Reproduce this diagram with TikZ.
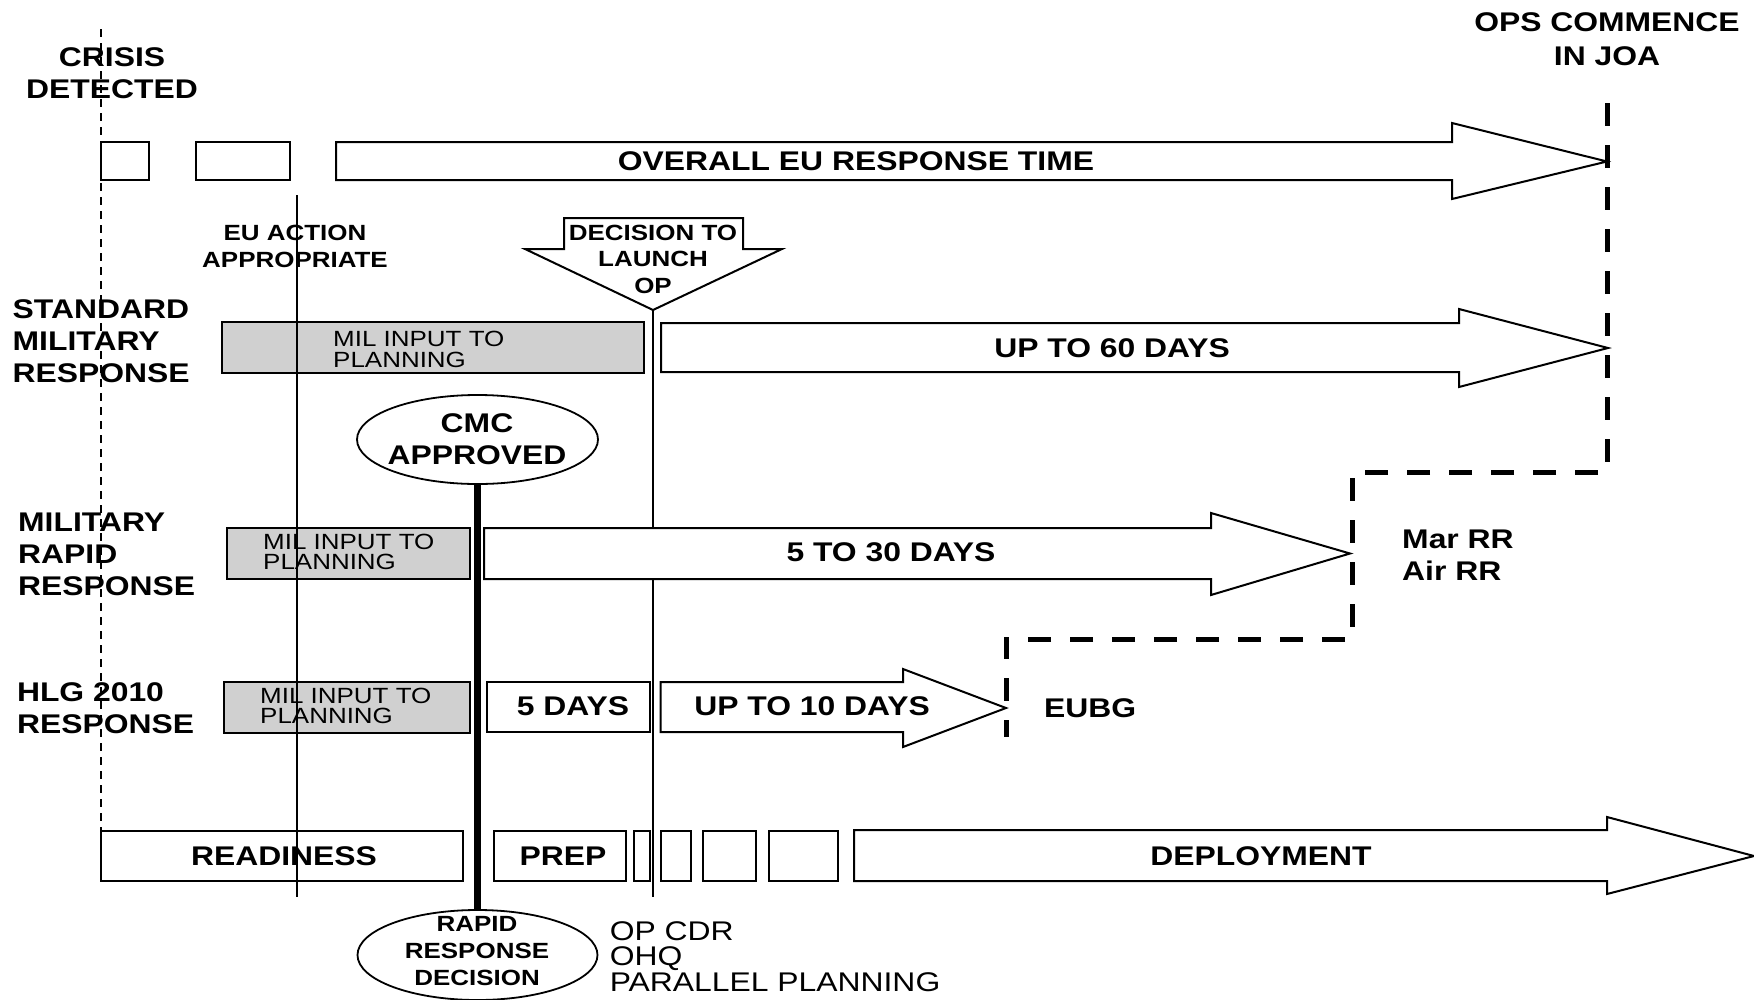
\documentclass[tikz,border=0pt]{standalone}
\usepackage{fontspec}
\setmainfont{Liberation Sans}[FakeStretch=1.18]
\usetikzlibrary{shapes.geometric,fit}
\definecolor{milgray}{RGB}{208,208,208}
\begin{document}
\begin{tikzpicture}[x=1pt,y=-1pt,
  shp/.style={draw, line width=2pt, fill=white, line join=miter},
  boxn/.style={shp, inner sep=0pt, outer sep=0pt},
  gboxn/.style={boxn, fill=milgray},
  thinline/.style={line width=1.5pt},
  crisisdash/.style={line width=1.3pt, dash pattern=on 8pt off 6pt},
  opsdash/.style={line width=5pt, dash pattern=on 23pt off 19pt},
  bigb/.style={font=\fontsize{27}{32}\selectfont\bfseries, inner sep=0pt, align=center},
  bigbl/.style={bigb, align=left, anchor=west},
  midb/.style={font=\fontsize{22}{26.5}\selectfont\bfseries, inner sep=0pt, align=center},
  milt/.style={font=\fontsize{22}{20.5}\selectfont, inner sep=0pt, align=left, anchor=west},
  regt/.style={font=\fontsize{27}{25.6}\selectfont, inner sep=0pt, align=left, anchor=west},
  ell/.style={draw, ellipse, line width=1.8pt, fill=white, inner sep=0pt, outer sep=0pt},
]
\useasboundingbox (0,0) rectangle (1754,999);

% coordinates for free ends
\coordinate (crisistop) at (101,29);
\coordinate (euatop) at (297,195);
\coordinate (euabot) at (297,897);
\coordinate (decbot) at (653,897);
\coordinate (dectip) at (653,310);
\coordinate (opstop) at (1607,103);
\coordinate (c1) at (1607,472);
\coordinate (c2) at (1352,472);
\coordinate (c3) at (1352,639);
\coordinate (c4) at (1006,639);
\coordinate (opsbot) at (1006,737);

% decision line (behind shapes)
\draw[thinline] (dectip) -- (decbot);

% row 1
\node[boxn, fit={(101,142)(149,180)}] (r1a) {};
\node[boxn, fit={(196,142)(290,180)}] (r1b) {};
\draw[shp] (336,142) -- (1452,142) -- (1452,123) -- (1607,161.5) -- (1452,199) -- (1452,180) -- (336,180) -- cycle;
\node[bigb] (overall) at (856,161.5) {OVERALL EU RESPONSE TIME};

% decision arrow
\draw[shp] (564,218) -- (743,218) -- (743,249) -- (782,249) -- (dectip) -- (525,249) -- (564,249) -- cycle;
\node[midb] (decision) at (653,259) {DECISION TO\\LAUNCH\\OP};

% standard row
\node[gboxn, fit={(222,322)(644,373)}] (g1) {};
\node[milt] (g1t) at (333,349.5) {MIL INPUT TO\\PLANNING};
\draw[shp] (661,323) -- (1459,323) -- (1459,309) -- (1608,348) -- (1459,387) -- (1459,372) -- (661,372) -- cycle;
\node[bigb] (sixty) at (1112,348) {UP TO 60 DAYS};

% rapid row
\node[gboxn, fit={(226.5,528)(470,579)}] (g2) {};
\node[milt] (g2t) at (263,552) {MIL INPUT TO\\PLANNING};
\draw[shp] (484,528) -- (1211,528) -- (1211,513) -- (1350,553.5) -- (1211,595) -- (1211,579) -- (484,579) -- cycle;
\node[bigb] (thirty) at (891,552) {5 TO 30 DAYS};

% hlg row
\node[gboxn, fit={(224,682)(470,733)}] (g3) {};
\node[milt] (g3t) at (260,706) {MIL INPUT TO\\PLANNING};
\node[boxn, fit={(486.6,682)(650,732)}] (five) {};
\node[bigb] (fivet) at (573,706.5) {5 DAYS};
\draw[shp] (660.5,682) -- (903,682) -- (903,669) -- (1006,708) -- (903,747) -- (903,732) -- (660.5,732) -- cycle;
\node[bigb] (ten) at (812,706) {UP TO 10 DAYS};

% bottom row
\node[boxn, fit={(101,831)(463,881)}] (ready) {};
\node[bigb] (readyt) at (284,856.5) {READINESS};
\node[boxn, fit={(494,831)(626,881)}] (prep) {};
\node[bigb] (prept) at (563,856.5) {PREP};
\node[boxn, fit={(634,831)(650,881)}] (s1) {};
\node[boxn, fit={(661,831)(691,881)}] (s2) {};
\node[boxn, fit={(702.5,831)(755.6,881)}] (s3) {};
\node[boxn, fit={(769,831)(838,881)}] (s4) {};
\draw[shp] (854,830) -- (1607,830) -- (1607,817) -- (1754,856) -- (1607,894) -- (1607,881) -- (854,881) -- cycle;
\node[bigb] (deploy) at (1261,856.5) {DEPLOYMENT};

% ellipses
\node[ell, minimum width=241, minimum height=89] (cmc) at (477.5,439.5) {};
\node[bigb] (cmct) at (477,439) {CMC\\APPROVED};
\node[ell, minimum width=240, minimum height=90] (rrd) at (477.5,955) {};
\node[midb, font=\fontsize{22}{27}\selectfont\bfseries] (rrdt) at (477,951.5) {RAPID\\RESPONSE\\DECISION};

% labels
\node[bigb] (crisis) at (112,73.6) {CRISIS\\DETECTED};
\node[bigb, font=\fontsize{27}{33.5}\selectfont\bfseries] (ops) at (1607,39) {OPS COMMENCE\\IN JOA};
\node[midb] (eua) at (295,246.5) {EU ACTION\\APPROPRIATE};
\node[bigbl] (std) at (12.5,341.5) {STANDARD\\MILITARY\\RESPONSE};
\node[bigbl] (mrr) at (18,554) {MILITARY\\RAPID\\RESPONSE};
\node[bigbl] (hlg) at (16.8,707.7) {HLG 2010\\RESPONSE};
\node[bigbl] (marrr) at (1402,555) {Mar RR\\Air RR};
\node[bigbl] (eubg) at (1044,708.5) {EUBG};
\node[regt] (opcdr) at (609.6,956.5) {OP CDR\\OHQ\\PARALLEL PLANNING};

% lines on top
\draw[thinline] (euatop) -- (euabot);
\draw[crisisdash] (crisistop) -- (ready.north west);
\draw[line width=7pt] (cmc.south) -- (rrd.north);
\draw[opsdash] (opstop) -- (c1) -- (c2) -- (c3) -- (c4) -- (opsbot);
\end{tikzpicture}
\end{document}
